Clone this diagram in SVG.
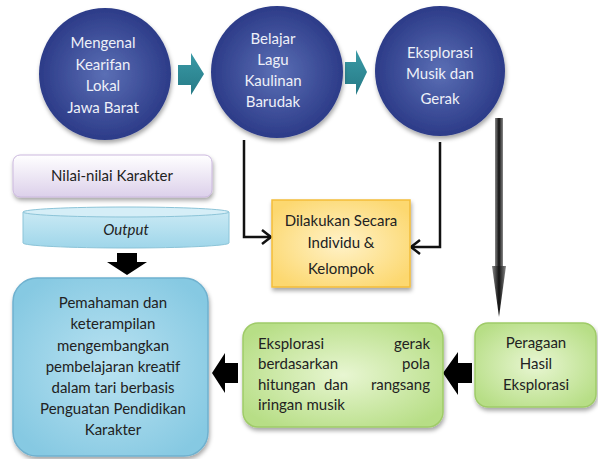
<svg xmlns="http://www.w3.org/2000/svg" width="598" height="459" viewBox="0 0 598 459">
<style>
text{font-family:Lato,"Liberation Sans",sans-serif;}
.cw{fill:#eef0f8;font-size:15px;text-anchor:middle;}
.dk{fill:#222;font-size:15px;}
.mid{text-anchor:middle;}
.end{text-anchor:end;}
.line{fill:none;stroke:#111;stroke-width:2.5;}
</style>
<defs>
<radialGradient id="gc" cx="0.5" cy="0.5" r="0.5">
<stop offset="0" stop-color="#5b6fb5"/>
<stop offset="1" stop-color="#2c3b88"/>
</radialGradient>
<filter id="sh" x="-20%" y="-20%" width="140%" height="140%">
<feDropShadow dx="1" dy="3" stdDeviation="2" flood-color="#000" flood-opacity="0.35"/>
</filter>
<radialGradient id="gg" cx="0.5" cy="0.5" r="0.6">
<stop offset="0" stop-color="#e8f6d2"/>
<stop offset="1" stop-color="#b7de86"/>
</radialGradient>
<radialGradient id="gb" cx="0.5" cy="0.5" r="0.6">
<stop offset="0" stop-color="#b9e2f1"/>
<stop offset="1" stop-color="#86c9e2"/>
</radialGradient>
<radialGradient id="gy" cx="0.5" cy="0.5" r="0.6">
<stop offset="0" stop-color="#fff2c8"/>
<stop offset="1" stop-color="#fcd870"/>
</radialGradient>
<linearGradient id="gp" x1="0" y1="0" x2="0" y2="1">
<stop offset="0" stop-color="#ffffff"/>
<stop offset="1" stop-color="#dcd0ea"/>
</linearGradient>
<linearGradient id="gcy" x1="0" y1="0" x2="0" y2="1">
<stop offset="0" stop-color="#c9e9f4"/>
<stop offset="1" stop-color="#9fd6ea"/>
</linearGradient>
<linearGradient id="gsh" x1="0" y1="0" x2="1" y2="0">
<stop offset="0" stop-color="#888"/>
<stop offset="0.5" stop-color="#111"/>
<stop offset="1" stop-color="#888"/>
</linearGradient>
<linearGradient id="gt" x1="0" y1="0" x2="0" y2="1">
<stop offset="0" stop-color="#3a9aa6"/>
<stop offset="1" stop-color="#267a86"/>
</linearGradient>
<marker id="ah" viewBox="0 0 10 10" refX="9" refY="5" markerWidth="5" markerHeight="5" orient="auto" markerUnits="userSpaceOnUse">
<path d="M1,1 L9,5 L1,9" fill="none" stroke="#111" stroke-width="2.2"/>
</marker>
</defs>

<g id="connectors">
<polygon points="178,65 191,65 191,53 204,74 191,95 191,85 178,85" fill="url(#gt)"/>
<polygon points="345,62 356,62 356,50 367,72 356,95 356,84 345,84" fill="url(#gt)"/>
<polyline class="line" points="244,140 244,237 271,237"/>
<path d="M262,230 L271,237 L262,244" fill="none" stroke="#111" stroke-width="2.5"/>
<polyline class="line" points="440,142 440,247 411,247"/>
<path d="M420,240 L411,247 L420,254" fill="none" stroke="#111" stroke-width="2.5"/>
<rect x="495" y="118" width="8" height="150" fill="url(#gsh)"/>
<polygon points="492,266 506,266 499,317" fill="url(#gsh)"/>
<polygon points="117,253 137,253 137,262 147,262 127,275 107,262 117,262" fill="#000"/>
<polygon points="238,363 238,383 225,383 225,393 212,373 225,353 225,363" fill="#000"/>
<polygon points="472,363 472,383 458,383 458,395 443,373 458,352 458,363" fill="#000"/>
</g>

<g id="c1">
<circle cx="105" cy="74" r="66" fill="url(#gc)" filter="url(#sh)"/>
<text class="cw" x="103" y="48">Mengenal</text>
<text class="cw" x="103" y="70">Kearifan</text>
<text class="cw" x="103" y="91">Lokal</text>
<text class="cw" x="103" y="113">Jawa Barat</text>
</g>
<g id="c2">
<circle cx="277" cy="72" r="66" fill="url(#gc)" filter="url(#sh)"/>
<text class="cw" x="273" y="44">Belajar</text>
<text class="cw" x="273" y="65">Lagu</text>
<text class="cw" x="273" y="86">Kaulinan</text>
<text class="cw" x="273" y="107">Barudak</text>
</g>
<g id="c3">
<circle cx="440" cy="71" r="65" fill="url(#gc)" filter="url(#sh)"/>
<text class="cw" x="440" y="58">Eksplorasi</text>
<text class="cw" x="440" y="79">Musik dan</text>
<text class="cw" x="440" y="104">Gerak</text>
</g>

<g id="nilai">
<rect x="13" y="155" width="199" height="42" rx="7" fill="url(#gp)" stroke="#cbb8de" stroke-width="1" filter="url(#sh)"/>
<text class="dk mid" x="112" y="181" font-size="14">Nilai-nilai Karakter</text>
</g>

<g id="output">
<path d="M23,212 L23,243 A103,5 0 0 0 229,243 L229,212 Z" fill="url(#gcy)" stroke="#8cc4d8" stroke-width="1"/>
<ellipse cx="126" cy="212" rx="103" ry="5" fill="#d5eef7" stroke="#8cc4d8" stroke-width="1"/>
<text class="dk mid" x="126" y="235" font-style="italic" font-size="15">Output</text>
</g>

<g id="yellow">
<rect x="272" y="200" width="138" height="87" fill="url(#gy)" stroke="#f3bd3a" stroke-width="1.5" filter="url(#sh)"/>
<text class="dk mid" x="341" y="226">Dilakukan Secara</text>
<text class="dk mid" x="341" y="248">Individu &amp;</text>
<text class="dk mid" x="341" y="274">Kelompok</text>
</g>

<g id="result">
<rect x="13" y="278" width="195" height="178" rx="24" fill="url(#gb)" stroke="#6fb1cf" stroke-width="1.5" filter="url(#sh)"/>
<text class="dk mid" x="113" y="308">Pemahaman  dan</text>
<text class="dk mid" x="113" y="329">keterampilan</text>
<text class="dk mid" x="113" y="351">mengembangkan</text>
<text class="dk mid" x="113" y="372">pembelajaran kreatif</text>
<text class="dk mid" x="113" y="393">dalam tari berbasis</text>
<text class="dk mid" x="113" y="414">Penguatan Pendidikan</text>
<text class="dk mid" x="113" y="435">Karakter</text>
</g>

<g id="green1">
<rect x="243" y="323" width="200" height="104" rx="15" fill="url(#gg)" stroke="#9fcb68" stroke-width="1.5" filter="url(#sh)"/>
<text class="dk" x="258" y="349">Eksplorasi</text>
<text class="dk end" x="430" y="349">gerak</text>
<text class="dk" x="258" y="369">berdasarkan</text>
<text class="dk end" x="430" y="369">pola</text>
<text class="dk" x="258" y="390">hitungan</text>
<text class="dk mid" x="336" y="390">dan</text>
<text class="dk end" x="430" y="390">rangsang</text>
<text class="dk" x="258" y="410">iringan musik</text>
</g>

<g id="green2">
<rect x="475" y="323" width="121" height="84" rx="13" fill="url(#gg)" stroke="#9fcb68" stroke-width="1.5" filter="url(#sh)"/>
<text class="dk mid" x="536" y="348">Peragaan</text>
<text class="dk mid" x="536" y="369">Hasil</text>
<text class="dk mid" x="536" y="390">Eksplorasi</text>
</g>
</svg>
